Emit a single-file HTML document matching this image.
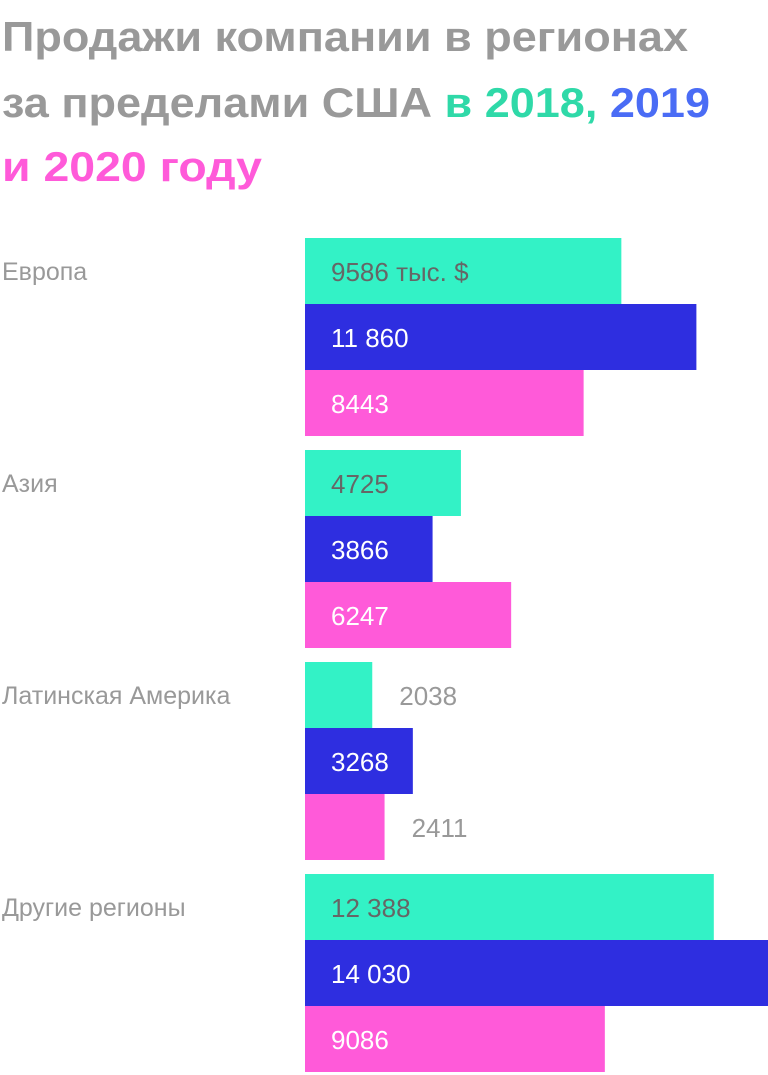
<!DOCTYPE html>
<html><head><meta charset="utf-8"><style>
html,body{margin:0;padding:0;background:#fff;}
svg{display:block;font-family:"Liberation Sans","DejaVu Sans",sans-serif;}
</style></head><body>
<svg id="chart" width="768" height="1075" viewBox="0 0 768 1075">
<g font-weight="bold" font-size="42">
<text x="2" y="51" fill="#999" textLength="686" lengthAdjust="spacingAndGlyphs">Продажи компании в регионах</text>
<text x="2" y="117" textLength="708" lengthAdjust="spacingAndGlyphs"><tspan fill="#999">за пределами США </tspan><tspan fill="#2FD9A8">в 2018, </tspan><tspan fill="#4A6CF5">2019</tspan></text>
<text x="2" y="181" fill="#FF5AD9" textLength="260" lengthAdjust="spacingAndGlyphs">и 2020 году</text>
</g>
<g id="bars"></g>
</svg>
<script>
const categories = ["Европа", "Азия", "Латинская Америка", "Другие регионы"];
const sales2018 = [9586, 4725, 2038, 12388];
const sales2019 = [11860, 3866, 3268, 14030];
const sales2020 = [8443, 6247, 2411, 9086];
const unitSuffix = " тыс. $";

const NS = "http://www.w3.org/2000/svg";
const x0 = 305, xMax = 768, maxVal = 14030;
const xScale = v => (v / maxVal) * (xMax - x0);
const groupTop = i => 238 + i * 212;
const barH = 66;
const series = [
  {vals: sales2018, fill: "#33F2C6", inText: "#666", name: "2018"},
  {vals: sales2019, fill: "#2E2EE0", inText: "#fff", name: "2019"},
  {vals: sales2020, fill: "#FF5AD9", inText: "#fff", name: "2020"}
];
const fmt = v => v >= 10000 ? String(v).replace(/(\d)(?=(\d{3})$)/, "$1 ") : String(v);
const g = document.getElementById("bars");
categories.forEach((c, i) => {
  const t = document.createElementNS(NS, "text");
  t.setAttribute("x", 2);
  t.setAttribute("y", groupTop(i) + 42);
  t.setAttribute("font-size", "25");
  t.setAttribute("fill", "#999");
  
  
  t.textContent = c;
  g.appendChild(t);
  series.forEach((s, j) => {
    const y = groupTop(i) + j * barH;
    const w = xScale(s.vals[i]);
    const r = document.createElementNS(NS, "rect");
    r.setAttribute("x", x0);
    r.setAttribute("y", y);
    r.setAttribute("width", w);
    r.setAttribute("height", barH);
    r.setAttribute("fill", s.fill);
    
    
    g.appendChild(r);
    const label = fmt(s.vals[i]) + (i === 0 && j === 0 ? unitSuffix : "");
    const inside = w > 100;
    const l = document.createElementNS(NS, "text");
    l.setAttribute("x", inside ? 331 : x0 + w + 27);
    l.setAttribute("y", y + 43);
    l.setAttribute("font-size", "26");
    l.setAttribute("fill", inside ? s.inText : "#999");
    
    
    l.textContent = label;
    g.appendChild(l);
  });
});
</script>
</body></html>
